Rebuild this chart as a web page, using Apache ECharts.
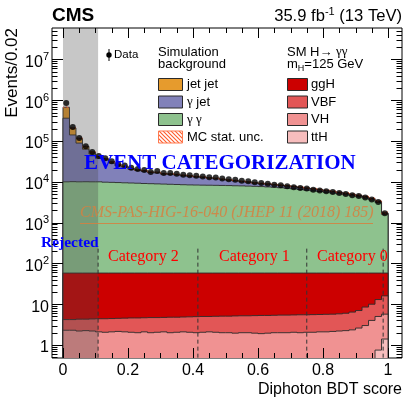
<!DOCTYPE html>
<html>
<head>
<meta charset="utf-8">
<script src="https://cdn.jsdelivr.net/npm/echarts@6/dist/echarts.min.js"></script>
<style>
  html, body { margin: 0; padding: 0; background: #fff; }
  #chart { width: 404px; height: 399px; }
</style>
</head>
<body>
<div id="chart"></div>
<script>
// ---- Histogram binning (50 bins of 0.02 in diphoton BDT score) ----
const BIN_WIDTH = 0.02;

// Observed events per bin
const dataEvents = [
  850000, 220000, 118000, 75000, 54000, 43000, 38000, 32000, 27000, 25000,
  22000, 20500, 19500, 17500, 18300, 16500, 16500, 15800, 15000, 14500,
  14000, 13600, 13000, 12700, 12000, 11500, 11200, 10600, 10300, 9700,
  9300, 9000, 8500, 8200, 7800, 7400, 7100, 6900, 6400, 6100,
  5900, 5600, 5300, 5000, 4700, 4500, 4100, 3700, 3200, 1700
];

// Simulated backgrounds per bin
const jetJet = [
  310000, 68000, 28000, 11000, 6000, 3500, 2500, 2000, 1500, 1200,
  1000, 900, 800, 700, 650, 600, 550, 500, 480, 450,
  430, 400, 380, 360, 340, 320, 300, 280, 260, 250,
  240, 220, 200, 190, 180, 170, 160, 150, 140, 130,
  120, 110, 100, 95, 90, 85, 80, 70, 60, 30
];
const gammaJet = [
  353000, 131000, 79000, 53000, 38000, 28200, 24600, 19300, 15100, 13600,
  11000, 9750, 9000, 7800, 7700, 6600, 6500, 6200, 5600, 5200,
  4800, 4500, 4000, 3750, 3200, 2800, 2550, 2100, 1900, 1500,
  1300, 1200, 1100, 1000, 900, 820, 750, 680, 620, 560,
  500, 450, 400, 360, 320, 290, 260, 230, 200, 100
];
const gammaGamma = [
  10000, 10100, 10000, 10050, 10000, 10000, 9800, 9700, 9600, 9450,
  9350, 9250, 9100, 9000, 8900, 8800, 8700, 8600, 8500, 8400,
  8350, 8300, 8250, 8200, 8150, 8100, 8000, 7950, 7850, 7750,
  7650, 7500, 7350, 7150, 6950, 6750, 6500, 6250, 6000, 5800,
  5550, 5300, 5050, 4800, 4550, 4300, 4000, 3600, 3100, 1600
];
// Relative MC statistical uncertainty of the background sum
const mcStatUncRel = [
  0.05, 0.05, 0.05, 0.05, 0.05, 0.05, 0.05, 0.05, 0.05, 0.05,
  0.04, 0.04, 0.04, 0.04, 0.04, 0.04, 0.04, 0.04, 0.04, 0.04,
  0.04, 0.04, 0.04, 0.04, 0.04, 0.04, 0.04, 0.04, 0.04, 0.04,
  0.04, 0.04, 0.04, 0.04, 0.04, 0.05, 0.05, 0.05, 0.05, 0.05,
  0.05, 0.05, 0.05, 0.06, 0.06, 0.06, 0.06, 0.07, 0.07, 0.08
];

// SM H -> gamma gamma signal, m_H = 125 GeV, per production mode
const ggH = [
  53.8, 53.8, 53.7, 53.7, 53.65, 53.6, 53.6, 53.55, 53.5, 53.45,
  53.4, 53.4, 53.35, 53.3, 53.3, 53.25, 53.2, 53.2, 53.15, 53.1,
  53.05, 53.0, 53.0, 52.95, 52.9, 52.9, 52.85, 52.8, 52.8, 52.75,
  52.7, 52.7, 52.65, 52.6, 52.6, 52.55, 52.5, 52.5, 52.45, 52.4,
  52.35, 52.3, 52.2, 52.0, 51.6, 51.0, 49.5, 48.0, 45.0, 42.0
];
const vbf = [
  1.9, 1.9, 2.1, 2.05, 2.15, 2.3, 2.35, 2.35, 2.35, 2.45,
  2.55, 2.6, 2.55, 2.7, 2.65, 2.65, 2.8, 2.75, 2.75, 2.85,
  2.95, 2.95, 2.9, 3.0, 3.1, 3.1, 3.2, 3.2, 3.2, 3.3,
  3.4, 3.35, 3.35, 3.4, 3.4, 3.4, 3.5, 3.45, 3.5, 3.5,
  3.55, 3.55, 3.6, 3.75, 4.05, 4.4, 5.5, 6.0, 8.0, 10.3
];
const vh = [
  2.15, 2.15, 2.05, 2.1, 2.05, 1.95, 1.9, 1.95, 2.0, 1.95,
  1.9, 1.85, 1.95, 1.85, 1.9, 1.95, 1.85, 1.9, 1.95, 1.9,
  1.85, 1.9, 1.95, 1.9, 1.85, 1.85, 1.8, 1.85, 1.85, 1.8,
  1.75, 1.8, 1.85, 1.85, 1.85, 1.9, 1.85, 1.9, 1.9, 1.95,
  1.95, 2.0, 2.05, 2.1, 2.2, 2.45, 2.7, 3.55, 4.25, 4.3
];
const ttH = [
  0.15, 0.15, 0.15, 0.15, 0.15, 0.15, 0.15, 0.15, 0.15, 0.15,
  0.15, 0.15, 0.15, 0.15, 0.15, 0.15, 0.15, 0.15, 0.15, 0.15,
  0.15, 0.15, 0.15, 0.15, 0.15, 0.15, 0.15, 0.15, 0.15, 0.15,
  0.15, 0.15, 0.15, 0.15, 0.15, 0.15, 0.15, 0.15, 0.15, 0.15,
  0.15, 0.15, 0.15, 0.15, 0.15, 0.15, 0.3, 0.45, 0.75, 1.4
];

// Axis tick labels
const xTickLabels = [0, 0.2, 0.4, 0.6, 0.8, 1];
const yTickLabels = [1, 10, 1e2, 1e3, 1e4, 1e5, 1e6, 1e7];

// Category boundaries on the BDT score (first one ends the rejected region)
const categoryBounds = [0.108, 0.415, 0.75, 0.985];

// ---- Axis ranges ----
const X_MIN = -0.0338, X_MAX = 1.043;
const Y_MIN = 0.48, Y_MAX = 5.9e7;
const FLOOR = 0.05;   // below the visible range, for histogram fills

const nBins = dataEvents.length;
const binCenters = dataEvents.map((_, i) => (i + 0.5) * BIN_WIDTH);

function stackUp(...parts) {
  return parts[0].map((_, i) => parts.reduce((s, p) => s + p[i], 0));
}
const bkgGG = gammaGamma.slice();
const bkgGJ = stackUp(gammaGamma, gammaJet);
const bkgAll = stackUp(gammaGamma, gammaJet, jetJet);
const sigTTH = ttH.slice();
const sigVH = stackUp(ttH, vh);
const sigVBF = stackUp(ttH, vh, vbf);
const sigGGH = stackUp(ttH, vh, vbf, ggH);

const COL = {
  jj: '#e69b2d', gj: '#8181b9', gg: '#8ec28e',
  ggH: '#cc0000', vbf: '#e25656', vh: '#f09292', tth: '#f7bdbd',
  edge: '#2a2a2a'
};

// drawn back to front, each filled from the floor to its stacked top
const layers = [
  { tops: bkgAll, fill: COL.jj },
  { tops: bkgGJ, fill: COL.gj },
  { tops: bkgGG, fill: COL.gg },
  { tops: sigGGH, fill: COL.ggH },
  { tops: sigVBF, fill: COL.vbf },
  { tops: sigVH, fill: COL.vh },
  { tops: sigTTH, fill: COL.tth }
];

function hatchCanvas(color) {
  const c = document.createElement('canvas');
  c.width = 4; c.height = 4;
  const g = c.getContext('2d');
  g.strokeStyle = color; g.lineWidth = 1.1;
  g.beginPath();
  g.moveTo(0, 0); g.lineTo(4, 4);
  g.moveTo(-2, 2); g.lineTo(2, 6);
  g.moveTo(2, -2); g.lineTo(6, 2);
  g.stroke();
  return c;
}
const hatch = hatchCanvas('#ff5a2a');

// ---- Tick marks (major + minor, mirrored on all four frame sides) ----
const tickMarks = [];
xTickLabels.forEach(v => { tickMarks.push({ axis: 'x', v, major: true }); });
for (let k = 0; k <= 20; k++) {
  const v = k * 0.05;
  if (k % 4 !== 0) tickMarks.push({ axis: 'x', v, major: false });
}
yTickLabels.forEach(v => { tickMarks.push({ axis: 'y', v, major: true }); });
for (let e = -1; e <= 7; e++) {
  for (let m = 2; m <= 9; m++) {
    const v = m * Math.pow(10, e);
    if (v >= Y_MIN && v <= Y_MAX) tickMarks.push({ axis: 'y', v, major: false });
  }
}

const dummy = (n) => Array.from({ length: n }, () => [0.5, 1]);

const chart = echarts.init(document.getElementById('chart'), null, { renderer: 'canvas' });

const SANS = 'Liberation Sans';
const SERIF = 'Liberation Serif';

const option = {
  animation: false,
  backgroundColor: '#fff',
  grid: {
    left: 52, top: 28, width: 350, height: 330,
    show: true, borderColor: '#000', borderWidth: 1, backgroundColor: 'transparent'
  },
  xAxis: {
    type: 'value', min: X_MIN, max: X_MAX,
    axisLine: { show: false }, axisTick: { show: false }, splitLine: { show: false },
    axisLabel: {
      customValues: xTickLabels,
      formatter: v => (Math.abs(v) < 1e-9 ? '0' : Math.abs(v - 1) < 1e-9 ? '1' : v.toFixed(1)),
      fontFamily: SANS, fontSize: 16, color: '#000', margin: 5
    }
  },
  yAxis: {
    type: 'log', logBase: 10, min: Y_MIN, max: Y_MAX,
    axisLine: { show: false }, axisTick: { show: false }, splitLine: { show: false },
    axisLabel: {
      customValues: yTickLabels,
      formatter: v => {
        const e = Math.round(Math.log10(v));
        if (e === 0) return '{b|1}';
        if (e === 1) return '{b|10}';
        return '{b|10}{s|' + e + '}';
      },
      margin: 3,
      rich: {
        b: { fontFamily: SANS, fontSize: 16, color: '#000', lineHeight: 16, padding: [6, 0, 0, 0] },
        s: { fontFamily: SANS, fontSize: 11, color: '#000', lineHeight: 11, verticalAlign: 'top' }
      }
    }
  },
  series: [
    // stacked backgrounds and signal
    {
      type: 'custom', coordinateSystem: 'cartesian2d', clip: true, z: 2,
      data: dummy(layers.length),
      renderItem: (params, api) => {
        const L = layers[params.dataIndex];
        const pts = [api.coord([0, FLOOR])];
        for (let i = 0; i < nBins; i++) {
          pts.push(api.coord([i * BIN_WIDTH, L.tops[i]]));
          pts.push(api.coord([(i + 1) * BIN_WIDTH, L.tops[i]]));
        }
        pts.push(api.coord([nBins * BIN_WIDTH, FLOOR]));
        return {
          type: 'polygon', shape: { points: pts },
          style: { fill: L.fill, stroke: COL.edge, lineWidth: 0.9 }
        };
      }
    },
    // MC statistical uncertainty band
    {
      type: 'custom', coordinateSystem: 'cartesian2d', clip: true, z: 3,
      data: dummy(nBins),
      renderItem: (params, api) => {
        const i = params.dataIndex;
        const u = mcStatUncRel[i] * bkgAll[i];
        const p0 = api.coord([i * BIN_WIDTH, bkgAll[i] + u]);
        const p1 = api.coord([(i + 1) * BIN_WIDTH, bkgAll[i] - u]);
        return {
          type: 'rect',
          shape: { x: p0[0], y: p0[1], width: p1[0] - p0[0], height: p1[1] - p0[1] },
          style: { fill: { image: hatch, repeat: 'repeat' } }
        };
      }
    },
    // rejected region shading
    {
      type: 'custom', coordinateSystem: 'cartesian2d', clip: true, z: 4,
      data: dummy(1),
      renderItem: (params, api) => {
        const p0 = api.coord([0, Y_MAX]);
        const p1 = api.coord([categoryBounds[0], Y_MIN]);
        return {
          type: 'rect',
          shape: { x: p0[0], y: p0[1], width: p1[0] - p0[0], height: p1[1] - p0[1] },
          style: { fill: 'rgba(70,70,70,0.3)' }
        };
      }
    },
    // category boundaries
    {
      type: 'custom', coordinateSystem: 'cartesian2d', clip: true, z: 5,
      data: dummy(categoryBounds.length),
      renderItem: (params, api) => {
        const x = categoryBounds[params.dataIndex];
        const p0 = api.coord([x, 230]);
        const p1 = api.coord([x, Y_MIN]);
        return {
          type: 'line',
          shape: { x1: p0[0], y1: p0[1], x2: p1[0], y2: p1[1] },
          style: { stroke: '#333', lineWidth: 1, lineDash: [4, 3] }
        };
      }
    },
    // data points
    {
      type: 'scatter', z: 6,
      data: binCenters.map((c, i) => [c, dataEvents[i]]),
      symbol: 'circle', symbolSize: 6,
      itemStyle: { color: '#000' }
    },
    // frame ticks
    {
      type: 'custom', coordinateSystem: 'cartesian2d', clip: false, z: 7,
      data: dummy(tickMarks.length),
      renderItem: (params, api) => {
        const t = tickMarks[params.dataIndex];
        const cs = params.coordSys;
        const left = cs.x, right = cs.x + cs.width, top = cs.y, bottom = cs.y + cs.height;
        const st = { stroke: '#000', lineWidth: 1 };
        if (t.axis === 'x') {
          const x = Math.round(api.coord([t.v, 1])[0]) + 0.5;
          const len = t.major ? 10 : 5;
          return { type: 'group', children: [
            { type: 'line', shape: { x1: x, y1: bottom, x2: x, y2: bottom - len }, style: st },
            { type: 'line', shape: { x1: x, y1: top, x2: x, y2: top + len }, style: st }
          ] };
        }
        const y = Math.round(api.coord([0, t.v])[1]) + 0.5;
        const len = t.major ? 11 : 5.5;
        return { type: 'group', children: [
          { type: 'line', shape: { x1: left, y1: y, x2: left + len, y2: y }, style: st },
          { type: 'line', shape: { x1: right, y1: y, x2: right - len, y2: y }, style: st }
        ] };
      }
    }
  ],
  graphic: {
    elements: [
      // header
      { type: 'text', left: 52, top: 6, z: 20,
        style: { text: 'CMS', font: 'bold 19px "Liberation Sans"', fill: '#000' } },
      { type: 'text', z: 20,
        style: {
          x: 402, y: 14, align: 'right', verticalAlign: 'middle',
          text: '{a|35.9 fb}{s|-1}{a| (13 TeV)}',
          rich: {
            a: { fontFamily: SANS, fontSize: 16.6, fill: '#000', lineHeight: 16, padding: [4, 0, 0, 0] },
            s: { fontFamily: SANS, fontSize: 11, fill: '#000', lineHeight: 11, verticalAlign: 'top' }
          }
        } },
      // axis titles
      { type: 'text', z: 20, rotation: Math.PI / 2, x: 12, y: 28,
        style: { text: 'Events/0.02', font: '17px "Liberation Sans"', fill: '#000', align: 'right', verticalAlign: 'middle' } },
      { type: 'text', z: 20,
        style: { x: 402, y: 390, text: 'Diphoton BDT score', font: '16px "Liberation Sans"', fill: '#000', align: 'right', verticalAlign: 'middle' } },

      // legend: data
      { type: 'line', z: 20, shape: { x1: 109, y1: 49, x2: 109, y2: 61 }, style: { stroke: '#000', lineWidth: 1 } },
      { type: 'circle', z: 20, shape: { cx: 109, cy: 55, r: 2.7 }, style: { fill: '#000' } },
      { type: 'text', z: 20, style: { x: 114, y: 55, text: 'Data', font: '11.5px "Liberation Sans"', fill: '#000', verticalAlign: 'middle' } },

      // legend: backgrounds
      { type: 'text', z: 20, style: { x: 158, y: 52, text: 'Simulation', font: '13px "Liberation Sans"', fill: '#000', verticalAlign: 'middle' } },
      { type: 'text', z: 20, style: { x: 158, y: 64, text: 'background', font: '13px "Liberation Sans"', fill: '#000', verticalAlign: 'middle' } },
      { type: 'rect', z: 20, shape: { x: 158.5, y: 78.5, width: 24, height: 12 }, style: { fill: COL.jj, stroke: COL.edge, lineWidth: 1 } },
      { type: 'text', z: 20, style: { x: 187, y: 84.5, text: 'jet jet', font: '13px "Liberation Sans"', fill: '#000', verticalAlign: 'middle' } },
      { type: 'rect', z: 20, shape: { x: 158.5, y: 96, width: 24, height: 12 }, style: { fill: COL.gj, stroke: COL.edge, lineWidth: 1 } },
      { type: 'text', z: 20, style: { x: 187, y: 102, text: '{g|γ} jet',
          rich: { g: { fontFamily: SERIF, fontSize: 13, fill: '#000' } }, font: '13px "Liberation Sans"', fill: '#000', verticalAlign: 'middle' } },
      { type: 'rect', z: 20, shape: { x: 158.5, y: 113.5, width: 24, height: 12 }, style: { fill: COL.gg, stroke: COL.edge, lineWidth: 1 } },
      { type: 'text', z: 20, style: { x: 187, y: 119.5, text: '{g|γ γ}',
          rich: { g: { fontFamily: SERIF, fontSize: 13, fill: '#000' } }, font: '13px "Liberation Sans"', fill: '#000', verticalAlign: 'middle' } },
      { type: 'rect', z: 20, shape: { x: 158.5, y: 131, width: 24, height: 12 }, style: { fill: { image: hatch, repeat: 'repeat' }, stroke: '#ff7a50', lineWidth: 1 } },
      { type: 'text', z: 20, style: { x: 187, y: 137, text: 'MC stat. unc.', font: '13px "Liberation Sans"', fill: '#000', verticalAlign: 'middle' } },

      // legend: signal
      { type: 'text', z: 20, style: { x: 287, y: 52, text: 'SM H→ {g|γγ}',
          rich: { g: { fontFamily: SERIF, fontSize: 13, fill: '#000' } }, font: '13px "Liberation Sans"', fill: '#000', verticalAlign: 'middle' } },
      { type: 'text', z: 20, style: { x: 287, y: 64, text: '{a|m}{u|H}{a|=125 GeV}',
          rich: {
            a: { fontFamily: SANS, fontSize: 13, fill: '#000', lineHeight: 13 },
            u: { fontFamily: SANS, fontSize: 9, fill: '#000', lineHeight: 9, verticalAlign: 'bottom', padding: [0, 0, -3, 0] }
          }, verticalAlign: 'middle' } },
      { type: 'rect', z: 20, shape: { x: 287.5, y: 78.5, width: 20, height: 12 }, style: { fill: COL.ggH, stroke: COL.edge, lineWidth: 1 } },
      { type: 'text', z: 20, style: { x: 311, y: 84.5, text: 'ggH', font: '13px "Liberation Sans"', fill: '#000', verticalAlign: 'middle' } },
      { type: 'rect', z: 20, shape: { x: 287.5, y: 96, width: 20, height: 12 }, style: { fill: COL.vbf, stroke: COL.edge, lineWidth: 1 } },
      { type: 'text', z: 20, style: { x: 311, y: 102, text: 'VBF', font: '13px "Liberation Sans"', fill: '#000', verticalAlign: 'middle' } },
      { type: 'rect', z: 20, shape: { x: 287.5, y: 113.5, width: 20, height: 12 }, style: { fill: COL.vh, stroke: COL.edge, lineWidth: 1 } },
      { type: 'text', z: 20, style: { x: 311, y: 119.5, text: 'VH', font: '13px "Liberation Sans"', fill: '#000', verticalAlign: 'middle' } },
      { type: 'rect', z: 20, shape: { x: 287.5, y: 131, width: 20, height: 12 }, style: { fill: COL.tth, stroke: COL.edge, lineWidth: 1 } },
      { type: 'text', z: 20, style: { x: 311, y: 137, text: 'ttH', font: '13px "Liberation Sans"', fill: '#000', verticalAlign: 'middle' } },

      // annotations
      { type: 'text', z: 20, style: { x: 84, y: 164, text: 'EVENT CATEGORIZATION', font: 'bold 21px "Liberation Serif"', fill: '#0000ff', verticalAlign: 'middle' } },
      { type: 'text', z: 20, style: { x: 80, y: 213, text: 'CMS-PAS-HIG-16-040 (JHEP 11 (2018) 185)', font: 'italic 16px "Liberation Serif"', fill: 'rgba(214,128,64,0.85)', verticalAlign: 'middle' } },
      { type: 'line', z: 20, shape: { x1: 80, y1: 223.5, x2: 373, y2: 223.5 }, style: { stroke: 'rgba(214,128,64,0.85)', lineWidth: 1 } },
      { type: 'text', z: 20, style: { x: 41, y: 243, text: 'Rejected', font: 'bold 15.5px "Liberation Serif"', fill: '#0000ff', verticalAlign: 'middle' } },
      { type: 'text', z: 20, style: { x: 108, y: 257, text: 'Category 2', font: '16px "Liberation Serif"', fill: '#ff0000', verticalAlign: 'middle' } },
      { type: 'text', z: 20, style: { x: 219, y: 257, text: 'Category 1', font: '16px "Liberation Serif"', fill: '#ff0000', verticalAlign: 'middle' } },
      { type: 'text', z: 20, style: { x: 317, y: 257, text: 'Category 0', font: '16px "Liberation Serif"', fill: '#ff0000', verticalAlign: 'middle' } }
    ]
  }
};

chart.setOption(option);
</script>
</body>
</html>
